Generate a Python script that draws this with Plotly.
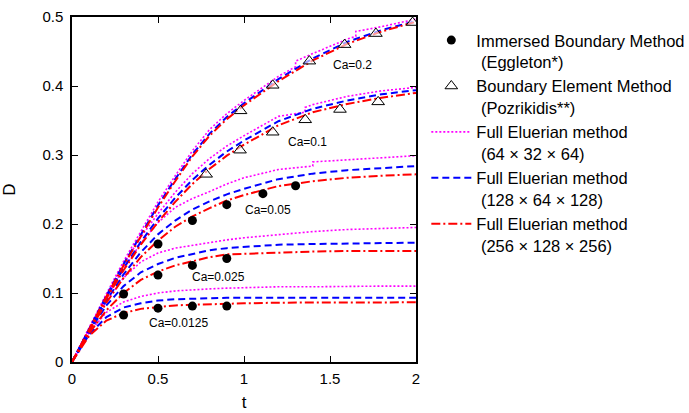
import plotly.graph_objects as go

# ---------------- data ----------------
t_grid = [0, 0.1, 0.2, 0.3, 0.4, 0.5, 0.6, 0.7, 0.8, 0.9, 1.0, 1.2, 1.4, 1.6, 1.8, 2.0]

# Full Eulerian 256x128x256 (red dash-dot)
red_ca02 = [0, 0.048, 0.095, 0.14, 0.182, 0.224, 0.262, 0.298, 0.328, 0.352, 0.372, 0.407, 0.437, 0.461, 0.479, 0.493]
red_ca01 = [0, 0.047, 0.092, 0.133, 0.17, 0.203, 0.232, 0.258, 0.28, 0.299, 0.315, 0.343, 0.362, 0.374, 0.383, 0.390]
red_ca005 = [0, 0.045, 0.086, 0.122, 0.152, 0.176, 0.196, 0.211, 0.223, 0.234, 0.242, 0.255, 0.262, 0.267, 0.270, 0.272]
red_ca0025 = [0, 0.042, 0.075, 0.10, 0.119, 0.131, 0.14, 0.146, 0.152, 0.156, 0.157, 0.159, 0.160, 0.161, 0.161, 0.161]
red_ca00125 = [0, 0.038, 0.06, 0.071, 0.077, 0.080, 0.082, 0.083, 0.084, 0.085, 0.085, 0.086, 0.086, 0.0865, 0.0865, 0.0865]

# Full Eulerian 128x64x128 (blue dashed)
blue_ca02 = [0, 0.049, 0.096, 0.142, 0.185, 0.227, 0.265, 0.301, 0.331, 0.355, 0.375, 0.41, 0.44, 0.464, 0.481, 0.494]
blue_ca01 = [0, 0.048, 0.094, 0.136, 0.174, 0.208, 0.238, 0.264, 0.286, 0.305, 0.321, 0.349, 0.367, 0.379, 0.388, 0.394]
blue_ca005 = [0, 0.046, 0.089, 0.127, 0.159, 0.185, 0.205, 0.221, 0.233, 0.243, 0.251, 0.265, 0.273, 0.278, 0.281, 0.284]
blue_ca0025 = [0, 0.044, 0.082, 0.11, 0.13, 0.142, 0.151, 0.157, 0.162, 0.165, 0.167, 0.170, 0.171, 0.172, 0.173, 0.173]
blue_ca00125 = [0, 0.04, 0.065, 0.079, 0.085, 0.089, 0.091, 0.092, 0.093, 0.093, 0.093, 0.093, 0.093, 0.093, 0.093, 0.093]

# Full Eulerian 64x32x64 (magenta dotted) - coarse grid shows small jumps
mag_t_ca02 = [0, 0.1, 0.2, 0.3, 0.4, 0.5, 0.6, 0.7, 0.8, 0.9, 1.0, 1.2, 1.3, 1.3, 1.4, 1.6, 1.65, 1.65, 1.8, 2.0]
mag_ca02 = [0, 0.05, 0.099, 0.146, 0.19, 0.232, 0.27, 0.306, 0.337, 0.36, 0.379, 0.414, 0.428, 0.436, 0.447, 0.468, 0.472, 0.479, 0.486, 0.497]
mag_t_ca01 = [0, 0.1, 0.2, 0.3, 0.4, 0.5, 0.6, 0.7, 0.8, 0.9, 1.0, 1.2, 1.355, 1.355, 1.4, 1.6, 1.8, 2.0]
mag_ca01 = [0, 0.05, 0.097, 0.142, 0.181, 0.215, 0.246, 0.273, 0.295, 0.313, 0.328, 0.356, 0.362, 0.369, 0.373, 0.385, 0.393, 0.398]
mag_t_ca005 = [0, 0.1, 0.2, 0.3, 0.4, 0.5, 0.6, 0.7, 0.8, 0.9, 1.0, 1.2, 1.4, 1.4, 1.6, 1.8, 2.0]
mag_ca005 = [0, 0.048, 0.093, 0.135, 0.172, 0.202, 0.224, 0.237, 0.247, 0.258, 0.267, 0.279, 0.284, 0.29, 0.293, 0.296, 0.299]
mag_ca0025 = [0, 0.046, 0.088, 0.122, 0.145, 0.158, 0.165, 0.169, 0.174, 0.177, 0.180, 0.185, 0.189, 0.192, 0.194, 0.195]
mag_ca00125 = [0, 0.043, 0.072, 0.087, 0.095, 0.100, 0.103, 0.105, 0.106, 0.107, 0.108, 0.109, 0.109, 0.110, 0.110, 0.110]

# Immersed Boundary Method (Eggleton)
ibm_t_ca00125 = [0.3, 0.5, 0.7, 0.9]
ibm_ca00125 = [0.068, 0.078, 0.081, 0.081]
ibm_t_ca0025 = [0.3, 0.5, 0.7, 0.9]
ibm_ca0025 = [0.0986, 0.126, 0.140, 0.150]
ibm_t_ca005 = [0.5, 0.7, 0.9, 1.11, 1.3]
ibm_ca005 = [0.171, 0.205, 0.228, 0.244, 0.2555]

# Boundary Element Method (Pozrikidis)
bem_t_ca01 = [0.78, 0.977, 1.167, 1.356, 1.558, 1.78]
bem_ca01 = [0.272, 0.307, 0.333, 0.351, 0.366, 0.377]
bem_t_ca02 = [0.98, 1.167, 1.38, 1.585, 1.767, 1.98]
bem_ca02 = [0.364, 0.401, 0.436, 0.460, 0.476, 0.492]

ca_labels = ["Ca=0.2", "Ca=0.1", "Ca=0.05", "Ca=0.025", "Ca=0.0125"]
ca_label_t = [1.63, 1.37, 1.14, 0.85, 0.62]
ca_label_d = [0.430, 0.319, 0.220, 0.123, 0.056]

x_ticks = [0, 0.5, 1, 1.5, 2]
y_ticks = [0, 0.1, 0.2, 0.3, 0.4, 0.5]

FONT = "Liberation Sans, Arial, sans-serif"
MAG = "#ff00ff"
BLUE = "#0000ff"
RED = "#ff0000"

fig = go.Figure()

mag_curves = [(mag_t_ca02, mag_ca02), (mag_t_ca01, mag_ca01), (mag_t_ca005, mag_ca005),
              (t_grid, mag_ca0025), (t_grid, mag_ca00125)]
blue_curves = [blue_ca02, blue_ca01, blue_ca005, blue_ca0025, blue_ca00125]
red_curves = [red_ca02, red_ca01, red_ca005, red_ca0025, red_ca00125]

for i, (tt, dd) in enumerate(mag_curves):
    fig.add_trace(go.Scatter(
        x=tt, y=dd, mode="lines",
        line=dict(color=MAG, width=1.6, dash="2px,2px"),
        name="Full Eluerian method<br> (64 × 32 × 64)",
        legendgroup="m", showlegend=(i == 0), legendrank=3))
for i, dd in enumerate(blue_curves):
    fig.add_trace(go.Scatter(
        x=t_grid, y=dd, mode="lines",
        line=dict(color=BLUE, width=2, dash="7px,4px"),
        name="Full Eluerian method<br> (128 × 64 × 128)",
        legendgroup="b", showlegend=(i == 0), legendrank=4))
for i, dd in enumerate(red_curves):
    fig.add_trace(go.Scatter(
        x=t_grid, y=dd, mode="lines",
        line=dict(color=RED, width=2, dash="9px,3px,2px,3px"),
        name="Full Eluerian method<br> (256 × 128 × 256)",
        legendgroup="r", showlegend=(i == 0), legendrank=5))

fig.add_trace(go.Scatter(
    x=ibm_t_ca00125 + ibm_t_ca0025 + ibm_t_ca005,
    y=ibm_ca00125 + ibm_ca0025 + ibm_ca005,
    mode="markers", marker=dict(symbol="circle", size=9, color="black"),
    name="Immersed Boundary Method<br> (Eggleton*)", legendrank=1))
fig.add_trace(go.Scatter(
    x=bem_t_ca01 + bem_t_ca02, y=bem_ca01 + bem_ca02,
    mode="markers",
    marker=dict(symbol="triangle-up", size=11, color="rgba(255,255,255,0.6)",
                line=dict(color="black", width=1)),
    name="Boundary Element Method<br> (Pozrikidis**)", legendrank=2))

for lab, lt, ld in zip(ca_labels, ca_label_t, ca_label_d):
    fig.add_annotation(x=lt, y=ld, text=lab, showarrow=False,
                       font=dict(family=FONT, size=12, color="black"))

axis_common = dict(showline=True, linecolor="black", linewidth=1.5, mirror="ticks",
                   ticks="inside", ticklen=6, tickcolor="black", tickwidth=1.2,
                   showgrid=False, zeroline=False, automargin=False,
                   tickfont=dict(family=FONT, size=15, color="black"))

fig.update_layout(
    width=689, height=413,
    margin=dict(l=72, r=273, t=17, b=51, autoexpand=False),
    paper_bgcolor="white", plot_bgcolor="white",
    font=dict(family=FONT, size=16, color="black"),
    xaxis=dict(range=[0, 2], tickvals=x_ticks, ticklabelstandoff=2,
               title=dict(text="t", font=dict(family=FONT, size=17), standoff=10),
               **axis_common),
    yaxis=dict(range=[0, 0.5], tickvals=y_ticks, ticklabelstandoff=4,
               title=dict(text="D", font=dict(family=FONT, size=17), standoff=24),
               **axis_common),
    legend=dict(x=1.03, y=0.983, xanchor="left", yanchor="top",
                font=dict(family=FONT, size=16.5, color="black"),
                bgcolor="rgba(0,0,0,0)", valign="top", tracegroupgap=0,
                itemwidth=40, traceorder="normal"),
    showlegend=True,
)

fig.write_html("out.html", config={"displayModeBar": False},
               post_script="document.body.style.margin='0';document.body.style.overflow='hidden';")
